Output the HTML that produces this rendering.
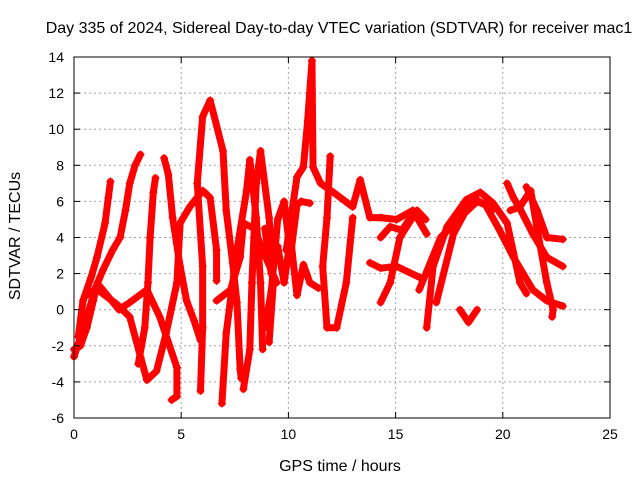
<!DOCTYPE html>
<html><head><meta charset="utf-8"><style>
body{margin:0;background:#fff}
svg{display:block;font-family:"Liberation Sans",sans-serif}
</style></head><body>
<svg id="chart" width="640" height="480">
<rect width="640" height="480" fill="#fff"/>
<text x="339" y="33" font-size="16" text-anchor="middle">Day 335 of 2024, Sidereal Day-to-day VTEC variation (SDTVAR) for receiver mac1</text>
<text x="340" y="471" font-size="16" text-anchor="middle">GPS time / hours</text>
<text transform="translate(20,236) rotate(-90)" font-size="16" text-anchor="middle">SDTVAR / TECUs</text>
<g id="grid"></g><g id="marks"></g><g id="axes"></g>
</svg>
<script>
const xTicks=[0,5,10,15,20,25];
const yTicks=[-6,-4,-2,0,2,4,6,8,10,12,14];
const traceA=[[0,-2.6],[0.5,-0.8],[1,1.2],[1.35,2.2],[1.8,3.3],[2.15,4.0],[2.4,5.5],[2.6,7.0],[2.85,8.0],[3.1,8.6]];
const traceB=[[0.2,-1.5],[0.42,0.5],[0.8,1.8],[1.07,2.9],[1.45,4.8],[1.6,6.2],[1.7,7.1]];
const traceC=[[3.0,-3.0],[3.3,-1],[3.45,1.5],[3.55,4],[3.7,6.5],[3.8,7.3]];
const traceD=[[0.6,0.8],[1.2,1.3],[2.1,0.0],[2.6,0.4],[3.4,1.1],[4.0,-0.4],[4.8,-3.2],[4.8,-4.8],[4.55,-5.0]];
const traceD2=[[1,1.2],[2.0,0.3],[2.6,-0.4],[3.1,-2.6],[3.4,-3.9],[3.85,-3.4],[4.3,-1.3],[4.8,1.5],[4.95,4.8],[5.4,5.7],[6.0,6.6],[6.35,6.2],[6.65,3.3],[6.65,1.6]];
const traceE=[[4.2,8.4],[4.4,7.5],[4.6,5.1],[4.95,2.4],[5.25,0.5],[5.6,-0.6],[5.9,-1.7]];
const traceF=[[5.9,-4.5],[6.0,-1.0],[6.0,2.4],[5.75,7.0],[6.0,10.7],[6.35,11.6],[6.95,8.8],[7.1,5.5],[7.4,2.6],[7.6,0.4],[7.75,-3.3],[7.8,-3.8]];
const traceG=[[6.9,-5.2],[7.1,-1.3],[7.6,3.3],[8.05,6.6],[8.2,8.3],[8.5,5.1],[8.7,1.5],[8.8,-2.2]];
const traceH=[[7.9,-4.4],[8.2,-2.2],[8.3,1.5],[8.5,7.0],[8.7,8.8],[9.1,5.1],[9.3,1.5],[9.1,-1.8]];
const traceH2=[[6.65,0.5],[7.3,1.1],[7.75,2.9],[7.9,4.8],[8.4,4.5],[8.8,3.3],[9.45,1.5]];
const traceK1=[[8.9,4.5],[9.2,2],[9.5,3.5],[9.8,1.5],[10.1,4],[10.4,0.8],[10.7,2.5],[11,1.5],[11.4,1.2]];
const traceK2=[[8.9,-1],[9.2,1],[9.5,5],[9.8,6],[10.1,3],[10.4,5.8],[10.6,6.0],[11,5.9]];
const traceI=[[9.9,3.3],[10.4,7.35],[10.7,7.9],[10.9,10.5],[11.1,13.8],[11.15,7.9],[11.5,7.0],[12.1,6.5],[13.0,5.7],[13.35,7.2],[13.8,5.1],[14.3,5.1],[15.05,5.0],[15.8,5.5],[16.45,4.2]];
const traceJ=[[11.95,8.5],[11.8,5.1],[11.6,2.4],[11.8,-1.0],[12.25,-1.0],[12.7,1.5],[13.0,5.1]];
const traceK=[[13.8,2.6],[14.3,2.3],[15.05,2.4],[16.1,1.8]];
const traceL=[[14.3,0.4],[14.75,1.5],[15.2,4.0],[16.0,5.5],[16.4,5.0]];
const traceL2=[[14.3,4.0],[14.75,4.6],[15.3,4.4],[15.8,5.3]];
const traceM=[[16.45,-1.0],[16.75,2.4],[17.4,4.6],[18.3,6.1],[18.95,6.5],[19.55,5.9],[20.2,4.8],[20.8,1.5],[21.1,0.9]];
const traceN=[[16.9,0.4],[17.7,4.2],[18.6,6.2],[19.2,5.8],[19.85,4.4],[20.5,2.9],[21.4,1.1],[22.05,0.5],[22.8,0.2]];
const traceO=[[20.2,7.0],[20.5,6.2],[20.8,5.6],[21.4,4.2],[22.05,2.9],[22.8,2.4]];
const traceP=[[21.1,6.8],[21.6,5.5],[22.05,4.0],[22.8,3.9]];
const traceQ=[[20.35,5.5],[20.8,5.7],[21.3,6.6],[21.6,4.5],[22.05,1.5],[22.35,0.0],[22.3,-0.4]];
const traceR=[[16.1,1.1],[17.1,4.0],[18.0,5.1],[18.8,6.0],[19.6,5.6]];
const traceS=[[18.0,0.0],[18.4,-0.7],[18.8,0.0]];
const traceT=[[0,-2.2],[0.3,-2.0],[0.6,-1.0],[0.9,0.5],[1.1,1.5]];
const traces=[traceA,traceB,traceC,traceD,traceD2,traceE,traceF,traceG,traceH,traceH2,traceK1,traceK2,traceI,traceJ,traceK,traceL,traceL2,traceM,traceN,traceO,traceP,traceQ,traceR,traceS,traceT];

const X0=74,X1=610,Y0=418,Y1=57;
const xs=t=>X0+(t-0)/(25-0)*(X1-X0);
const ys=v=>Y0-(v+6)/(20)*(Y0-Y1);
const NS="http://www.w3.org/2000/svg";
function mk(tag,attrs,parent){const e=document.createElementNS(NS,tag);for(const k in attrs)e.setAttribute(k,attrs[k]);parent.appendChild(e);return e;}
const grid=document.getElementById('grid'),axes=document.getElementById('axes'),marks=document.getElementById('marks');
xTicks.forEach(t=>{
 const x=xs(t);
 if(t>0&&t<25){const g=mk('line',{x1:x,x2:x,y1:Y1,y2:Y0,stroke:'#a0a0a0','stroke-dasharray':'2,3','stroke-width':1},grid);
 
 }
 mk('line',{x1:x,x2:x,y1:Y0,y2:Y0-6,stroke:'#000'},axes);
 mk('line',{x1:x,x2:x,y1:Y1,y2:Y1+6,stroke:'#000'},axes);
 const l=mk('text',{x:x,y:Y0+21,'font-size':14,'text-anchor':'middle'},axes);l.textContent=t;
 
 
});
yTicks.forEach(v=>{
 const y=ys(v);
 if(v>-6&&v<14){const g=mk('line',{x1:X0,x2:X1,y1:y,y2:y,stroke:'#a0a0a0','stroke-dasharray':'2,3','stroke-width':1},grid);
 
 }
 mk('line',{x1:X0,x2:X0+6,y1:y,y2:y,stroke:'#000'},axes);
 mk('line',{x1:X1,x2:X1-6,y1:y,y2:y,stroke:'#000'},axes);
 const l=mk('text',{x:X0-10,y:y+5,'font-size':14,'text-anchor':'end'},axes);l.textContent=v;
 
 
});
const fr=mk('rect',{x:X0,y:Y1,width:X1-X0,height:Y0-Y1,fill:'none',stroke:'#000'},axes);


traces.forEach(tr=>{
 const p=mk('polyline',{points:tr.map(d=>xs(d[0])+','+ys(d[1])).join(' '),fill:'none',stroke:'#f00','stroke-width':7,'stroke-linejoin':'round','stroke-linecap':'round'},marks);
 
 
 tr.forEach(d=>{
  const x=xs(d[0]),y=ys(d[1]);
  const m=mk('path',{d:`M${x-4},${y}H${x+4}M${x},${y-4}V${y+4}`,stroke:'#f00','stroke-width':1.2},marks);
  
  
 });
});
</script>
</body></html>
